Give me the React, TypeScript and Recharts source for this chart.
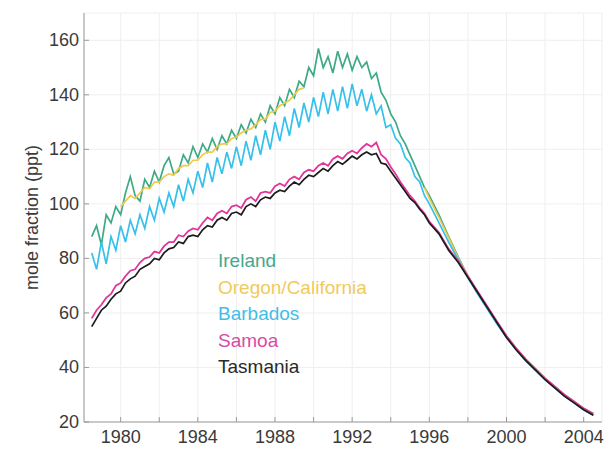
import React from "react";
import { LineChart, Line, XAxis, YAxis, CartesianGrid } from "recharts";

// quarterly to 1996, half-yearly after
const years = [
  1978.5, 1978.75,
  1979, 1979.25, 1979.5, 1979.75,
  1980, 1980.25, 1980.5, 1980.75,
  1981, 1981.25, 1981.5, 1981.75,
  1982, 1982.25, 1982.5, 1982.75,
  1983, 1983.25, 1983.5, 1983.75,
  1984, 1984.25, 1984.5, 1984.75,
  1985, 1985.25, 1985.5, 1985.75,
  1986, 1986.25, 1986.5, 1986.75,
  1987, 1987.25, 1987.5, 1987.75,
  1988, 1988.25, 1988.5, 1988.75,
  1989, 1989.25, 1989.5, 1989.75,
  1990, 1990.25, 1990.5, 1990.75,
  1991, 1991.25, 1991.5, 1991.75,
  1992, 1992.25, 1992.5, 1992.75,
  1993, 1993.25, 1993.5, 1993.75,
  1994, 1994.25, 1994.5, 1994.75,
  1995, 1995.25, 1995.5, 1995.75,
  1996,
  1996.5, 1997, 1997.5, 1998, 1998.5, 1999, 1999.5, 2000, 2000.5,
  2001, 2001.5, 2002, 2002.5, 2003, 2003.5, 2004, 2004.5,
];

const ireland = [
  88, 92,
  85, 96, 93, 99,
  96, 104, 110, 103,
  101, 109, 106, 112,
  108, 114, 117, 111,
  112, 118, 115, 121,
  117, 122, 119, 124,
  120, 125, 122, 127,
  124, 129, 126, 131,
  128, 133, 130, 136,
  133, 139, 136, 142,
  139, 145, 143, 150,
  147, 157, 150, 154,
  148, 156, 150, 155,
  149, 154, 150, 152,
  146, 148, 141, 138,
  133, 130, 125, 122,
  118, 114, 110, 106,
  103,
  96, 88, 80.5, 73.5, 67.5, 62, 56.5, 51.5, 47,
  43, 39.5, 36, 33, 30, 27.5, 25, 23,
];

const oregon = [
  null, null,
  null, null, null, null,
  99, 101, 103, 102,
  104, 106, 105.5, 108,
  108, 110, 111, 110.5,
  113, 114, 114, 116,
  116, 118, 119, 119,
  121, 122, 122, 124,
  124.5, 126, 127, 127.5,
  129, 131, 131, 133.5,
  134, 136, 137, 138,
  140, 142, 142.5, null,
  null, null, null, null,
  null, null, null, null,
  null, null, null, null,
  null, null, null, null,
  null, null, null, null,
  null, null, null, 106,
  102,
  95, 87.5, 80, 73.5, 67.5, 62, 56.5, 51.5, 47,
  43, 39.5, 36, 33, 30, 27.5, 25, 23,
];

const barbados = [
  82, 76,
  86, 78, 88, 83,
  92, 86, 94, 89,
  96, 91, 99, 94,
  102, 97, 104, 99,
  107, 101, 109, 104,
  112, 106, 115, 108,
  117, 111, 119, 113,
  121, 114, 123, 116,
  125, 118, 127, 120,
  130, 123, 132, 125,
  135, 128, 137, 130,
  139, 132, 141, 133,
  142, 134, 143, 135,
  144, 136, 142, 134,
  140, 133, 136, 128,
  129, 124, 122, 117,
  115, 110, 108, 103,
  100,
  93, 86, 79.5, 73, 67, 61.5, 56, 51, 46.5,
  42.5, 39, 35.5, 32.5, 29.5, 27, 24.5, 22.5,
];

const samoa = [
  58, 61,
  63, 65.5, 67, 70,
  71, 73.5, 75.5, 76,
  78.5, 80, 80.5, 82.5,
  82, 84.5, 86, 86,
  88.5, 88, 90, 91,
  90.5, 93, 95, 94,
  96.5, 97.5, 96.5, 99,
  99.5, 98.5, 101.5, 102.5,
  101, 104, 104.5, 104,
  106.5, 107.5, 106.5, 109,
  110, 109, 111.5, 112.5,
  112, 114, 115, 114,
  116.5, 117.5, 116.5, 118.5,
  119.5, 118.5, 120.5, 122,
  121, 122.5, 118, 116.5,
  113.5, 111, 108, 105.5,
  103, 101, 98.5, 96.5,
  93.5,
  89.5, 83.5, 79, 73.5, 68, 62.5, 57, 51.5, 47,
  43, 39.5, 36, 33, 30, 27.5, 25, 23,
];

const tasmania = [
  55, 58,
  61, 62.5, 65, 67,
  68, 71, 72.5, 73.5,
  76, 77, 78, 80,
  79.5, 82, 83.5, 84,
  86, 85.5, 88, 88.5,
  88, 90.5, 92, 91.5,
  94, 95, 94, 96.5,
  97, 96, 99, 100,
  99, 101.5, 102.5, 102,
  104, 105, 104.5, 106.5,
  108, 107, 109, 110.5,
  110, 111.5, 113, 112,
  114, 115.5, 114.5, 116,
  117.5, 116.5, 118, 119,
  118, 118.5, 115, 114.5,
  112, 109.5, 107, 104.5,
  102, 100.5, 98, 96,
  93,
  89, 83, 78.5, 73, 67.5, 62, 56.5, 51, 46.5,
  42.5, 39, 35.5, 32.5, 29.5, 27, 24.5, 22.5,
];

const xTicks = [1980, 1982, 1984, 1986, 1988, 1990, 1992, 1994, 1996, 1998, 2000, 2002, 2004];
const yTicks = [20, 40, 60, 80, 100, 120, 140, 160];

const legendItems = [
  { name: "Ireland", color: "#45a98a" },
  { name: "Oregon/California", color: "#f0cb5a" },
  { name: "Barbados", color: "#42bde6" },
  { name: "Samoa", color: "#d94ba6" },
  { name: "Tasmania", color: "#2a2a2a" },
];

const data = years.map((year, i) => ({
  year,
  ireland: ireland[i],
  oregon: oregon[i],
  barbados: barbados[i],
  samoa: samoa[i],
  tasmania: tasmania[i],
}));

const FONT = "'Liberation Sans', Arial, Helvetica, sans-serif";
const AXIS = "#9a9a9a";

const BottomTick = (props: any) => {
  const { x, y, payload } = props;
  const v = payload.value;
  return (
    <g>
      <line x1={x} y1={y} x2={x} y2={y - 5} stroke={AXIS} />
      {v % 4 === 0 && (
        <text x={x} y={y + 21} textAnchor="middle" fontSize={18} fill="#3a3a3a" fontFamily={FONT}>
          {v}
        </text>
      )}
    </g>
  );
};

const TopTick = (props: any) => {
  const { x, y } = props;
  return <line x1={x} y1={y} x2={x} y2={y + 5} stroke={AXIS} />;
};

const LeftTick = (props: any) => {
  const { x, y, payload } = props;
  return (
    <g>
      <line x1={x} y1={y} x2={x + 5} y2={y} stroke={AXIS} />
      <text x={x - 5} y={y + 6} textAnchor="end" fontSize={18} fill="#3a3a3a" fontFamily={FONT}>
        {payload.value}
      </text>
    </g>
  );
};

const RightTick = (props: any) => {
  const { x, y } = props;
  return <line x1={x} y1={y} x2={x - 5} y2={y} stroke={AXIS} />;
};

export default function App() {
  return (
    <div style={{ position: "absolute", left: 0, top: 0, width: 605, height: 449, background: "#fff" }}>
      <LineChart width={605} height={449} data={data} margin={{ top: 13, right: 3, bottom: 0, left: 0 }}>
        <CartesianGrid stroke="#efefef" />
        <XAxis
          dataKey="year"
          type="number"
          domain={[1978.1, 2004.95]}
          ticks={xTicks}
          interval={0}
          height={27}
          tickSize={0}
          tickMargin={0}
          tickLine={false}
          tick={<BottomTick />}
          axisLine={{ stroke: AXIS }}
          allowDataOverflow
        />
        <XAxis
          xAxisId="top"
          orientation="top"
          dataKey="year"
          type="number"
          domain={[1978.1, 2004.95]}
          ticks={xTicks}
          interval={0}
          height={0}
          tickSize={0}
          tickMargin={0}
          tickLine={false}
          tick={<TopTick />}
          axisLine={{ stroke: AXIS }}
          allowDataOverflow
        />
        <YAxis
          type="number"
          domain={[20, 170]}
          ticks={yTicks}
          interval={0}
          width={84}
          tickSize={0}
          tickMargin={0}
          tickLine={false}
          tick={<LeftTick />}
          axisLine={{ stroke: AXIS }}
          label={{
            value: "mole fraction (ppt)",
            angle: -90,
            position: "insideLeft",
            dx: 27,
            dy: 0,
            style: { fontSize: 18, fill: "#3a3a3a", fontFamily: FONT, textAnchor: "middle" },
          }}
        />
        <YAxis
          yAxisId="right"
          orientation="right"
          type="number"
          domain={[20, 170]}
          ticks={yTicks}
          interval={0}
          width={0}
          tickSize={0}
          tickMargin={0}
          tickLine={false}
          tick={<RightTick />}
          axisLine={{ stroke: AXIS }}
        />
        <Line dataKey="ireland" stroke="#3daa86" strokeWidth={1.7} dot={false} isAnimationActive={false} />
        <Line dataKey="oregon" stroke="#f3c84e" strokeWidth={1.7} dot={false} isAnimationActive={false} />
        <Line dataKey="barbados" stroke="#36c0ea" strokeWidth={1.7} dot={false} isAnimationActive={false} />
        <Line dataKey="samoa" stroke="#e0369a" strokeWidth={1.8} dot={false} isAnimationActive={false} />
        <Line dataKey="tasmania" stroke="#1c1c1c" strokeWidth={1.7} dot={false} isAnimationActive={false} />
      </LineChart>
      <svg width={605} height={449} style={{ position: "absolute", left: 0, top: 0, pointerEvents: "none" }}>
        {legendItems.map((item, i) => (
          <text key={item.name} x={218} y={267 + i * 26.5} fontSize={19} fill={item.color} fontFamily={FONT}>
            {item.name}
          </text>
        ))}
      </svg>
    </div>
  );
}
